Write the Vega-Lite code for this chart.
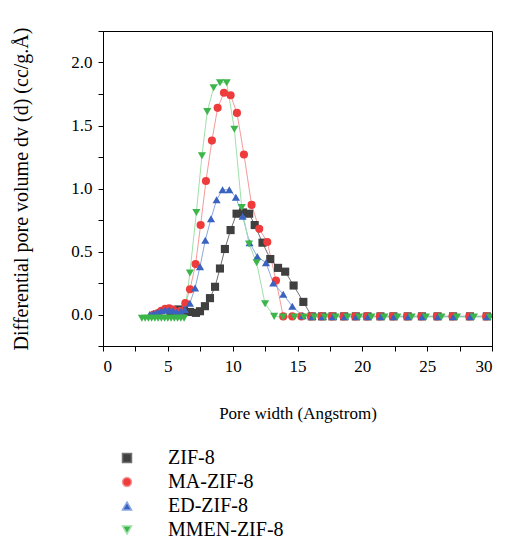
{
  "$schema": "https://vega.github.io/schema/vega-lite/v6.json",
  "width": 389,
  "height": 315,
  "autosize": {"type": "none"},
  "padding": {"left": 103, "top": 31, "right": 13, "bottom": 196},
  "background": "white",
  "data": {"values": [
    {"s":"ZIF-8","x":5.2,"y":0.02},{"s":"ZIF-8","x":5.5,"y":0.03},{"s":"ZIF-8","x":5.81,"y":0.04},{"s":"ZIF-8","x":6.25,"y":0.03},{"s":"ZIF-8","x":6.71,"y":0.02},{"s":"ZIF-8","x":7.17,"y":0.013},{"s":"ZIF-8","x":7.48,"y":0.026},{"s":"ZIF-8","x":7.86,"y":0.066},{"s":"ZIF-8","x":8.25,"y":0.13},{"s":"ZIF-8","x":8.64,"y":0.22},{"s":"ZIF-8","x":9.02,"y":0.365},{"s":"ZIF-8","x":9.4,"y":0.52},{"s":"ZIF-8","x":9.84,"y":0.67},{"s":"ZIF-8","x":10.3,"y":0.8},{"s":"ZIF-8","x":10.8,"y":0.81},{"s":"ZIF-8","x":11.27,"y":0.8},{"s":"ZIF-8","x":11.7,"y":0.71},{"s":"ZIF-8","x":12.3,"y":0.57},{"s":"ZIF-8","x":12.9,"y":0.44},{"s":"ZIF-8","x":13.5,"y":0.37},{"s":"ZIF-8","x":14.05,"y":0.34},{"s":"ZIF-8","x":14.7,"y":0.23},{"s":"ZIF-8","x":15.45,"y":0.1},{"s":"ZIF-8","x":16.1,"y":-0.015},{"s":"ZIF-8","x":16.9,"y":-0.015},{"s":"ZIF-8","x":17.7,"y":-0.015},{"s":"ZIF-8","x":18.6,"y":-0.015},{"s":"ZIF-8","x":19.5,"y":-0.015},{"s":"ZIF-8","x":20.4,"y":-0.015},{"s":"ZIF-8","x":21.4,"y":-0.015},{"s":"ZIF-8","x":22.4,"y":-0.015},{"s":"ZIF-8","x":23.5,"y":-0.015},{"s":"ZIF-8","x":24.6,"y":-0.015},{"s":"ZIF-8","x":25.8,"y":-0.015},{"s":"ZIF-8","x":27.0,"y":-0.015},{"s":"ZIF-8","x":28.3,"y":-0.015},{"s":"ZIF-8","x":29.6,"y":-0.015},
    {"s":"MA-ZIF-8","x":3.9,"y":0.0},{"s":"MA-ZIF-8","x":4.2,"y":0.01},{"s":"MA-ZIF-8","x":4.5,"y":0.03},{"s":"MA-ZIF-8","x":4.8,"y":0.045},{"s":"MA-ZIF-8","x":5.1,"y":0.05},{"s":"MA-ZIF-8","x":5.4,"y":0.04},{"s":"MA-ZIF-8","x":5.7,"y":0.02},{"s":"MA-ZIF-8","x":6.0,"y":0.03},{"s":"MA-ZIF-8","x":6.35,"y":0.09},{"s":"MA-ZIF-8","x":6.71,"y":0.2},{"s":"MA-ZIF-8","x":7.14,"y":0.4},{"s":"MA-ZIF-8","x":7.53,"y":0.71},{"s":"MA-ZIF-8","x":7.94,"y":1.06},{"s":"MA-ZIF-8","x":8.4,"y":1.38},{"s":"MA-ZIF-8","x":8.84,"y":1.64},{"s":"MA-ZIF-8","x":9.33,"y":1.76},{"s":"MA-ZIF-8","x":9.84,"y":1.74},{"s":"MA-ZIF-8","x":10.33,"y":1.6},{"s":"MA-ZIF-8","x":10.87,"y":1.27},{"s":"MA-ZIF-8","x":11.46,"y":0.87},{"s":"MA-ZIF-8","x":12.05,"y":0.68},{"s":"MA-ZIF-8","x":12.67,"y":0.575},{"s":"MA-ZIF-8","x":13.34,"y":0.27},{"s":"MA-ZIF-8","x":13.9,"y":-0.015},{"s":"MA-ZIF-8","x":14.6,"y":-0.015},{"s":"MA-ZIF-8","x":15.3,"y":-0.015},{"s":"MA-ZIF-8","x":16.05,"y":-0.015},{"s":"MA-ZIF-8","x":16.85,"y":-0.015},{"s":"MA-ZIF-8","x":17.65,"y":-0.015},{"s":"MA-ZIF-8","x":18.55,"y":-0.015},{"s":"MA-ZIF-8","x":19.45,"y":-0.015},{"s":"MA-ZIF-8","x":20.35,"y":-0.015},{"s":"MA-ZIF-8","x":21.35,"y":-0.015},{"s":"MA-ZIF-8","x":22.35,"y":-0.015},{"s":"MA-ZIF-8","x":23.45,"y":-0.015},{"s":"MA-ZIF-8","x":24.55,"y":-0.015},{"s":"MA-ZIF-8","x":25.75,"y":-0.015},{"s":"MA-ZIF-8","x":26.95,"y":-0.015},{"s":"MA-ZIF-8","x":28.25,"y":-0.015},{"s":"MA-ZIF-8","x":29.55,"y":-0.015},
    {"s":"ED-ZIF-8","x":3.6,"y":0.0},{"s":"ED-ZIF-8","x":3.9,"y":0.01},{"s":"ED-ZIF-8","x":4.2,"y":0.02},{"s":"ED-ZIF-8","x":4.5,"y":0.03},{"s":"ED-ZIF-8","x":4.8,"y":0.035},{"s":"ED-ZIF-8","x":5.1,"y":0.035},{"s":"ED-ZIF-8","x":5.4,"y":0.03},{"s":"ED-ZIF-8","x":5.7,"y":0.02},{"s":"ED-ZIF-8","x":6.0,"y":0.025},{"s":"ED-ZIF-8","x":6.3,"y":0.04},{"s":"ED-ZIF-8","x":6.7,"y":0.09},{"s":"ED-ZIF-8","x":7.1,"y":0.21},{"s":"ED-ZIF-8","x":7.48,"y":0.38},{"s":"ED-ZIF-8","x":7.89,"y":0.59},{"s":"ED-ZIF-8","x":8.33,"y":0.76},{"s":"ED-ZIF-8","x":8.76,"y":0.91},{"s":"ED-ZIF-8","x":9.22,"y":0.99},{"s":"ED-ZIF-8","x":9.74,"y":0.99},{"s":"ED-ZIF-8","x":10.25,"y":0.93},{"s":"ED-ZIF-8","x":10.77,"y":0.78},{"s":"ED-ZIF-8","x":11.3,"y":0.57},{"s":"ED-ZIF-8","x":11.9,"y":0.46},{"s":"ED-ZIF-8","x":12.57,"y":0.41},{"s":"ED-ZIF-8","x":13.13,"y":0.25},{"s":"ED-ZIF-8","x":13.9,"y":0.16},{"s":"ED-ZIF-8","x":14.6,"y":0.065},{"s":"ED-ZIF-8","x":15.4,"y":-0.01},{"s":"ED-ZIF-8","x":16.15,"y":-0.015},{"s":"ED-ZIF-8","x":16.95,"y":-0.015},{"s":"ED-ZIF-8","x":17.75,"y":-0.015},{"s":"ED-ZIF-8","x":18.65,"y":-0.015},{"s":"ED-ZIF-8","x":19.55,"y":-0.015},{"s":"ED-ZIF-8","x":20.45,"y":-0.015},{"s":"ED-ZIF-8","x":21.45,"y":-0.015},{"s":"ED-ZIF-8","x":22.45,"y":-0.015},{"s":"ED-ZIF-8","x":23.55,"y":-0.015},{"s":"ED-ZIF-8","x":24.65,"y":-0.015},{"s":"ED-ZIF-8","x":25.85,"y":-0.015},{"s":"ED-ZIF-8","x":27.05,"y":-0.015},{"s":"ED-ZIF-8","x":28.35,"y":-0.015},{"s":"ED-ZIF-8","x":29.65,"y":-0.015},
    {"s":"MMEN-ZIF-8","x":3.0,"y":-0.03},{"s":"MMEN-ZIF-8","x":3.25,"y":-0.03},{"s":"MMEN-ZIF-8","x":3.5,"y":-0.03},{"s":"MMEN-ZIF-8","x":3.75,"y":-0.03},{"s":"MMEN-ZIF-8","x":4.0,"y":-0.03},{"s":"MMEN-ZIF-8","x":4.25,"y":-0.03},{"s":"MMEN-ZIF-8","x":4.5,"y":-0.03},{"s":"MMEN-ZIF-8","x":4.75,"y":-0.03},{"s":"MMEN-ZIF-8","x":5.0,"y":-0.03},{"s":"MMEN-ZIF-8","x":5.25,"y":-0.03},{"s":"MMEN-ZIF-8","x":5.5,"y":-0.03},{"s":"MMEN-ZIF-8","x":5.75,"y":-0.03},{"s":"MMEN-ZIF-8","x":6.0,"y":-0.03},{"s":"MMEN-ZIF-8","x":6.25,"y":-0.03},{"s":"MMEN-ZIF-8","x":6.7,"y":0.33},{"s":"MMEN-ZIF-8","x":7.2,"y":0.81},{"s":"MMEN-ZIF-8","x":7.63,"y":1.26},{"s":"MMEN-ZIF-8","x":8.04,"y":1.61},{"s":"MMEN-ZIF-8","x":8.53,"y":1.8},{"s":"MMEN-ZIF-8","x":9.02,"y":1.84},{"s":"MMEN-ZIF-8","x":9.54,"y":1.84},{"s":"MMEN-ZIF-8","x":10.13,"y":1.47},{"s":"MMEN-ZIF-8","x":10.7,"y":0.85},{"s":"MMEN-ZIF-8","x":11.26,"y":0.56},{"s":"MMEN-ZIF-8","x":11.85,"y":0.41},{"s":"MMEN-ZIF-8","x":12.5,"y":0.085},{"s":"MMEN-ZIF-8","x":13.2,"y":-0.015},{"s":"MMEN-ZIF-8","x":13.9,"y":-0.02},{"s":"MMEN-ZIF-8","x":14.75,"y":-0.02},{"s":"MMEN-ZIF-8","x":15.5,"y":-0.02},{"s":"MMEN-ZIF-8","x":16.3,"y":-0.02},{"s":"MMEN-ZIF-8","x":17.1,"y":-0.02},{"s":"MMEN-ZIF-8","x":17.95,"y":-0.02},{"s":"MMEN-ZIF-8","x":18.85,"y":-0.02},{"s":"MMEN-ZIF-8","x":19.75,"y":-0.02},{"s":"MMEN-ZIF-8","x":20.7,"y":-0.02},{"s":"MMEN-ZIF-8","x":21.7,"y":-0.02},{"s":"MMEN-ZIF-8","x":22.7,"y":-0.02},{"s":"MMEN-ZIF-8","x":23.8,"y":-0.02},{"s":"MMEN-ZIF-8","x":24.9,"y":-0.02},{"s":"MMEN-ZIF-8","x":26.1,"y":-0.02},{"s":"MMEN-ZIF-8","x":27.3,"y":-0.02},{"s":"MMEN-ZIF-8","x":28.6,"y":-0.02},{"s":"MMEN-ZIF-8","x":29.85,"y":-0.02}
  ]},
  "encoding": {
    "x": {"field": "x", "type": "quantitative", "title": "Pore width (Angstrom)",
      "scale": {"domain": [0, 30], "nice": false, "zero": false},
      "axis": {"values": [0, 2.5, 5, 7.5, 10, 12.5, 15, 17.5, 20, 22.5, 25, 27.5, 30],
        "labelExpr": "datum.value % 5 === 0 ? format(datum.value, 'd') : ''",
        "labelPadding": 7, "titlePadding": 31}},
    "y": {"field": "y", "type": "quantitative", "title": "Differential pore volume dv (d) (cc/g.Å)",
      "scale": {"domain": [-0.25, 2.25], "nice": false, "zero": false},
      "axis": {"values": [-0.25, 0, 0.25, 0.5, 0.75, 1, 1.25, 1.5, 1.75, 2, 2.25],
        "labelExpr": "(datum.value >= 0 && datum.value <= 2 && abs(datum.value*2 - round(datum.value*2)) < 0.001) ? format(datum.value, '.1f') : ''",
        "labelPadding": 6, "titlePadding": 39, "titleFontSize": 20}}
  },
  "layer": [
    {
      "mark": {"type": "line", "strokeWidth": 1, "clip": true},
      "encoding": {
        "stroke": {"field": "s", "type": "nominal", "title": null,
          "scale": {"domain": ["ZIF-8", "MA-ZIF-8", "ED-ZIF-8", "MMEN-ZIF-8"],
                    "range": ["#707070", "#f59a9a", "#8aa8e3", "#9fe0aa"]}}
      }
    },
    {
      "mark": {"type": "point", "filled": true, "opacity": 1, "size": 66, "clip": true},
      "encoding": {
        "color": {"field": "s", "type": "nominal", "title": null,
          "scale": {"domain": ["ZIF-8", "MA-ZIF-8", "ED-ZIF-8", "MMEN-ZIF-8"],
                    "range": ["#3f3f3f", "#ee3b3b", "#3a62c0", "#3cb54a"]}},
        "shape": {"field": "s", "type": "nominal", "title": null,
          "scale": {"domain": ["ZIF-8", "MA-ZIF-8", "ED-ZIF-8", "MMEN-ZIF-8"],
                    "range": ["square", "circle", "triangle-up", "triangle-down"]}}
      }
    }
  ],
  "config": {
    "font": "Liberation Serif",
    "view": {"stroke": "#000", "strokeWidth": 1},
    "axis": {"grid": false, "domainColor": "#000", "tickColor": "#000", "labelColor": "#000", "titleColor": "#000",
      "labelFont": "Liberation Serif", "titleFont": "Liberation Serif", "labelFontSize": 17, "titleFontSize": 17,
      "titleFontWeight": "normal", "tickSize": 5},
    "legend": {
      "orient": "none", "legendX": 14, "legendY": 415, "direction": "vertical",
      "symbolSize": 81, "labelOffset": 31, "padding": 0, "clipHeight": 24, "rowPadding": 0,
      "labelFontSize": 20, "labelFont": "Liberation Serif", "labelColor": "#000",
      "symbolStrokeWidth": 1.5
    }
  }
}
